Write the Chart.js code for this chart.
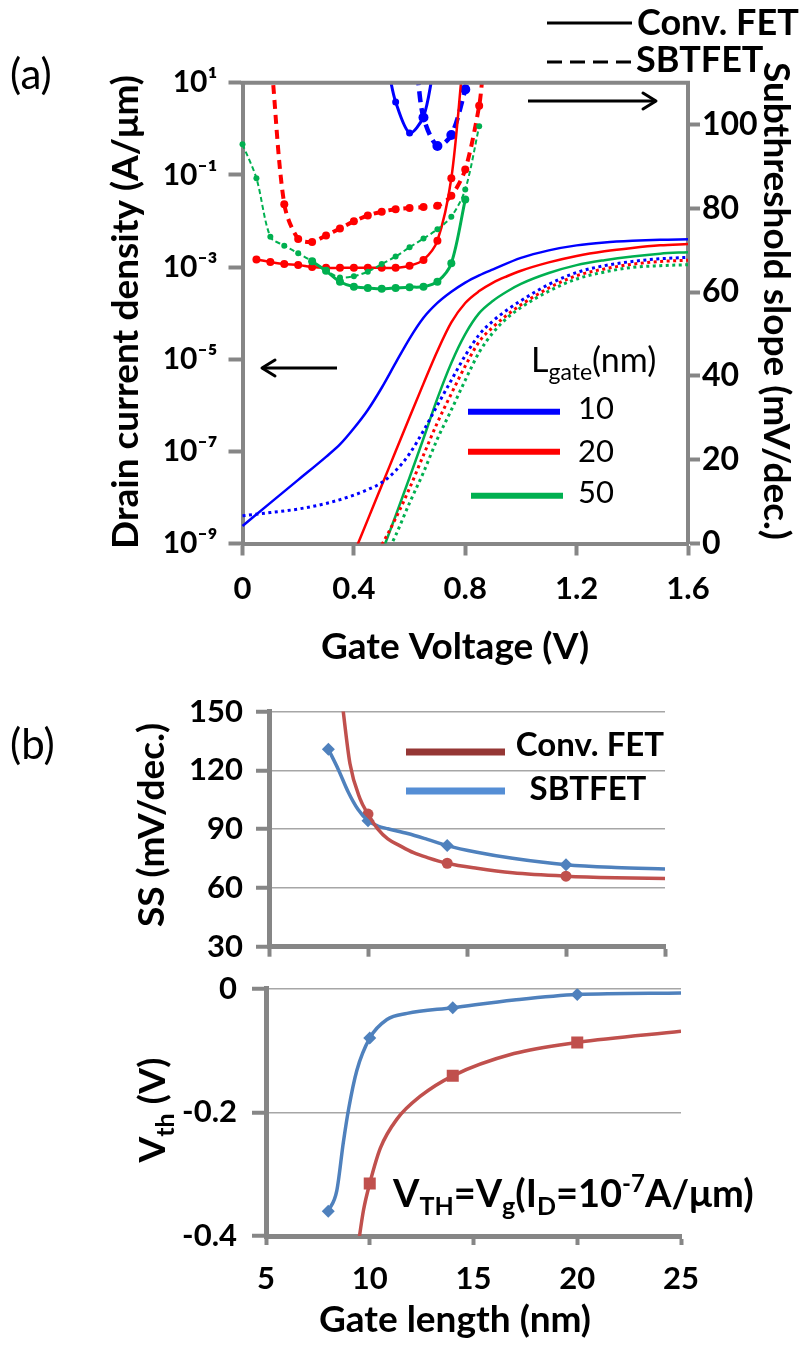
<!DOCTYPE html>
<html><head><meta charset="utf-8">
<script src="https://cdn.jsdelivr.net/npm/chart.js@4.4.1/dist/chart.umd.min.js"></script>
<style>
html,body{margin:0;padding:0;background:#fff;}
#wrap{position:relative;width:802px;height:1346px;overflow:hidden;background:#fff;}
canvas{position:absolute;left:0;}
</style></head><body>
<div id="wrap">
<canvas id="ca" width="802" height="680" style="top:0px;width:802px;height:680px"></canvas>
<canvas id="cb1" width="802" height="300" style="top:680px;width:802px;height:300px"></canvas>
<canvas id="cb2" width="802" height="391" style="top:955px;width:802px;height:391px"></canvas>
</div>
<script>
// ================= DATA =================
// ---- Panel (a) axes ----
const gateVTicks = [0, 0.4, 0.8, 1.2, 1.6];
const idTickValues = [1e-9, 1e-7, 1e-5, 1e-3, 1e-1, 1e1];
const idTickLabels = ['10⁻⁹', '10⁻⁷', '10⁻⁵', '10⁻³', '10⁻¹', '10¹'];
const ssTicksA = [0, 20, 40, 60, 80, 100];

// ---- Panel (a) drain current density (A/um) vs gate voltage ----
const idV_conv10 = [0,0.1,0.2,0.3,0.35,0.4,0.45,0.5,0.55,0.6,0.65,0.7,0.75,0.8,0.85,0.9,1.0,1.1,1.2,1.3,1.4,1.5,1.6];
const id_conv10 = [2.4e-9,7.6e-9,2.4e-8,7.6e-8,1.41e-7,3.16e-7,7.9e-7,2.4e-6,8.3e-6,2.8e-5,7.9e-5,1.66e-4,2.9e-4,4.6e-4,6.6e-4,8.9e-4,1.58e-3,2.3e-3,2.95e-3,3.4e-3,3.7e-3,3.9e-3,4.0e-3];
const idV_conv20 = [0.41,0.45,0.5,0.55,0.6,0.65,0.7,0.75,0.8,0.85,0.9,0.95,1.0,1.1,1.2,1.3,1.4,1.5,1.6];
const id_conv20 = [8.5e-10,3.3e-9,1.82e-8,1.0e-7,5.5e-7,2.95e-6,1.51e-5,6.3e-5,1.66e-4,3.0e-4,4.6e-4,6.3e-4,8.3e-4,1.26e-3,1.74e-3,2.2e-3,2.6e-3,2.95e-3,3.16e-3];
const idV_conv50 = [0.5,0.55,0.6,0.65,0.7,0.75,0.8,0.85,0.9,0.95,1.0,1.1,1.2,1.3,1.4,1.5,1.6];
const id_conv50 = [6.3e-10,4.0e-9,2.7e-8,1.9e-7,1.41e-6,8.3e-6,3.5e-5,1.0e-4,1.86e-4,2.95e-4,4.3e-4,7.4e-4,1.1e-3,1.41e-3,1.7e-3,1.95e-3,2.1e-3];
const idV_sb10 = [0,0.1,0.2,0.3,0.4,0.45,0.5,0.55,0.6,0.65,0.7,0.75,0.8,0.85,0.9,0.95,1.0,1.1,1.2,1.3,1.4,1.5,1.6];
const id_sb10 = [4.0e-9,4.7e-9,5.6e-9,7.4e-9,1.12e-8,1.48e-8,2.1e-8,3.8e-8,8.9e-8,2.8e-7,1.0e-6,3.5e-6,1.2e-5,3.4e-5,6.8e-5,1.17e-4,1.86e-4,4.2e-4,7.6e-4,1.07e-3,1.32e-3,1.51e-3,1.62e-3];
const idV_sb20 = [0.49,0.55,0.6,0.65,0.7,0.75,0.8,0.85,0.9,0.95,1.0,1.1,1.2,1.3,1.4,1.5,1.6];
const id_sb20 = [7.1e-10,3.5e-9,1.58e-8,8.3e-8,4.2e-7,1.78e-6,7.1e-6,2.4e-5,5.0e-5,9.1e-5,1.51e-4,3.5e-4,6.5e-4,9.1e-4,1.15e-3,1.32e-3,1.41e-3];
const idV_sb50 = [0.52,0.55,0.6,0.65,0.7,0.75,0.8,0.85,0.9,0.95,1.0,1.1,1.2,1.3,1.4,1.5,1.6];
const id_sb50 = [6.3e-10,1.5e-9,7.6e-9,3.5e-8,1.86e-7,7.9e-7,3.5e-6,1.41e-5,3.8e-5,7.8e-5,1.32e-4,3.0e-4,5.5e-4,7.8e-4,9.8e-4,1.07e-3,1.12e-3];

// ---- Panel (a) subthreshold slope (mV/dec.) vs gate voltage ----
const ssV_conv10 = [0.527,0.55,0.60,0.65,0.683];
const ss_conv10 = [112,105.4,98.0,101.9,112];
const ssV_sb10 = [0.628,0.65,0.70,0.75,0.80,0.81];
const ss_sb10 = [112,101.7,94.9,97.5,108.4,112];
const ssV_conv20 = [0.05,0.10,0.15,0.20,0.25,0.30,0.35,0.40,0.45,0.50,0.55,0.60,0.65,0.70,0.75,0.789];
const ss_conv20 = [67.8,67.2,66.7,66.5,66.0,65.8,65.8,65.8,65.8,65.8,65.8,66.3,67.7,72.3,87.2,113];
const ssV_sb20 = [0.106,0.15,0.20,0.25,0.30,0.35,0.40,0.45,0.50,0.55,0.60,0.65,0.70,0.75,0.80,0.85,0.864];
const ss_sb20 = [113,81.0,72.7,72.0,73.5,75.2,76.9,78.3,79.2,79.8,80.1,80.3,80.6,83.0,89.3,104.5,113];
const ssV_conv50 = [0.25,0.30,0.35,0.40,0.45,0.50,0.55,0.60,0.65,0.70,0.75,0.80];
const ss_conv50 = [67.4,65.1,62.5,61.3,61.0,60.8,61.0,61.2,61.3,62.5,66.9,82.1];
const ssV_sb50 = [0,0.05,0.10,0.15,0.20,0.25,0.30,0.35,0.40,0.45,0.50,0.55,0.60,0.65,0.70,0.75,0.80,0.85];
const ss_sb50 = [95.3,87.2,73.2,71.1,69.3,67.4,65.1,63.5,63.8,64.9,66.7,68.5,70.7,72.8,75.0,78.0,84.5,99.6];

// ---- Panel (b) ----
const lenTicks = [5, 10, 15, 20, 25];
const ssTicksB = [30, 60, 90, 120, 150];
const vthTicks = [-0.4, -0.2, 0];
// SS vs gate length: plotted points
const ssLen_conv = [10, 14, 20];
const ssB_conv = [97.7, 72.6, 66.0];
const ssLen_sb = [8, 10, 14, 20];
const ssB_sb = [130.8, 94.3, 81.6, 71.8];
// SS vs gate length: drawn smooth curves
const ssCurveLen_conv = [8.69,9.09,9.6,10,10.5,11,11.6,12.3,13,14,15.5,17.3,20,22.5,25];
const ssCurve_conv = [155,123.4,105.4,97.7,90,85,81.6,78,75.5,72.6,70,67.7,66,65.2,64.8];
const ssCurveLen_sb = [8,8.5,9,9.5,10,10.5,11,12,13,14,15.5,17.3,20,22.5,25];
const ssCurve_sb = [130.8,120.5,109,100,94.3,91.6,90.2,87.8,84.8,81.6,78.2,75.1,71.8,70.4,69.7];
// Vth vs gate length: plotted points
const vthLen_conv = [10, 14, 20];
const vth_conv = [-0.315, -0.141, -0.087];
const vthLen_sb = [8, 10, 14, 20];
const vth_sb = [-0.36, -0.08, -0.031, -0.0095];
// Vth vs gate length: drawn smooth curves
const vthCurveLen_conv = [9.42,9.7,10,10.51,11.31,12.44,14,16.95,20,25];
const vthCurve_conv = [-0.42,-0.358,-0.315,-0.258,-0.211,-0.174,-0.141,-0.105,-0.087,-0.069];
const vthCurveLen_sb = [8,8.41,8.73,8.98,9.38,10,10.83,11.8,14,16.95,20,25];
const vthCurve_sb = [-0.36,-0.327,-0.248,-0.195,-0.132,-0.08,-0.05,-0.04,-0.031,-0.0185,-0.0095,-0.007];

// ================= HELPERS =================
const FONT = "Lato, 'DejaVu Sans', sans-serif";
const AX = '#868686';
const BLUE = '#0000FF', RED = '#FF0000', GREEN = '#00B050';
const CONV = '#C0504D', SB = '#4F81BD';
const pts = (xs, ys) => xs.map((x, i) => ({x: x, y: ys[i]}));
const fixW = w => s => { s.width = w; };
const fixH = h => s => { s.height = h; };
const setTicks = vals => s => { s.ticks = vals.map(v => ({value: v})); };
const tickFont = (size, weight) => ({family: FONT, size: size, weight: weight || 'bold'});

function txt(ctx, s, x, y, o) {
  o = Object.assign({size: 37, weight: 'bold', align: 'center', base: 'middle', rot: 0}, o || {});
  ctx.save(); ctx.translate(x, y); if (o.rot) ctx.rotate(o.rot);
  ctx.font = o.weight + ' ' + o.size + 'px ' + FONT;
  ctx.fillStyle = '#000'; ctx.textAlign = o.align; ctx.textBaseline = o.base;
  ctx.fillText(s, 0, 0); ctx.restore();
}
function rich(ctx, parts, x, y, o) {
  o = Object.assign({align: 'left', rot: 0, weight: 'bold'}, o || {});
  ctx.save(); ctx.translate(x, y); if (o.rot) ctx.rotate(o.rot);
  ctx.fillStyle = '#000'; ctx.textBaseline = 'alphabetic'; ctx.textAlign = 'left';
  let w = 0;
  parts.forEach(p => { ctx.font = o.weight + ' ' + p[1] + 'px ' + FONT; w += ctx.measureText(p[0]).width; });
  let cx = o.align === 'center' ? -w / 2 : 0;
  parts.forEach(p => { ctx.font = o.weight + ' ' + p[1] + 'px ' + FONT; ctx.fillText(p[0], cx, p[2] || 0); cx += ctx.measureText(p[0]).width; });
  ctx.restore();
}
function seg(ctx, x1, y1, x2, y2, color, w, dash) {
  ctx.save(); ctx.strokeStyle = color; ctx.lineWidth = w; ctx.setLineDash(dash || []);
  ctx.beginPath(); ctx.moveTo(x1, y1); ctx.lineTo(x2, y2); ctx.stroke(); ctx.restore();
}
function arrow(ctx, x1, y, x2) {
  seg(ctx, x1, y, x2, y, '#000', 3);
  const d = x2 > x1 ? -1 : 1;
  ctx.save(); ctx.strokeStyle = '#000'; ctx.lineWidth = 3; ctx.lineCap = 'round'; ctx.lineJoin = 'round';
  ctx.beginPath(); ctx.moveTo(x2 + d * 13, y - 8); ctx.lineTo(x2, y); ctx.lineTo(x2 + d * 13, y + 8); ctx.stroke(); ctx.restore();
}
const overlay = (id, offY, fn) => ({id: id, afterDraw(chart) { const c = chart.ctx; c.save(); c.translate(0, -offY); fn(c, chart); c.restore(); }});

const baseOpts = {responsive: false, animation: false, devicePixelRatio: 1, events: [],
  plugins: {legend: {display: false}, tooltip: {enabled: false}}};

// ================= PANEL (a) =================
function ssSet(xs, ys, color, w, dash, r) {
  return {data: pts(xs, ys), yAxisID: 'y1', borderColor: color, backgroundColor: color, borderWidth: w,
    borderDash: dash, pointRadius: c => (c.raw && c.raw.y > 110 ? 0 : r), pointBorderWidth: 0,
    pointBackgroundColor: color, tension: 0.3, fill: false, clip: {left: 8, top: 0, right: 0, bottom: 0}};
}
function idSet(xs, ys, color, dotted) {
  return {data: pts(xs, ys), yAxisID: 'y', borderColor: color, borderWidth: dotted ? 3 : 2.5,
    borderDash: dotted ? [3, 3.5] : [], pointRadius: 0, cubicInterpolationMode: 'monotone', fill: false,
    clip: {left: 4, top: 0, right: 0, bottom: 0}};
}

new Chart(document.getElementById('ca'), {
  type: 'line',
  data: {datasets: [
    idSet(idV_sb10, id_sb10, BLUE, true),
    idSet(idV_sb20, id_sb20, RED, true),
    idSet(idV_sb50, id_sb50, GREEN, true),
    idSet(idV_conv10, id_conv10, BLUE, false),
    idSet(idV_conv20, id_conv20, RED, false),
    idSet(idV_conv50, id_conv50, GREEN, false),
    ssSet(ssV_sb50, ss_sb50, GREEN, 2, [5, 3], 3),
    ssSet(ssV_conv50, ss_conv50, GREEN, 3, [], 4),
    ssSet(ssV_sb20, ss_sb20, RED, 4, [9, 6], 4),
    ssSet(ssV_conv20, ss_conv20, RED, 2.5, [], 4),
    ssSet(ssV_conv10, ss_conv10, BLUE, 3, [], 3.5),
    ssSet(ssV_sb10, ss_sb10, BLUE, 4.5, [11, 6], 5)
  ]},
  options: Object.assign({}, baseOpts, {
    layout: {padding: {top: 82.7, left: 0, right: 0, bottom: 0}},
    scales: {
      x: {type: 'linear', min: 0, max: 1.6, afterFit: fixH(136.5), afterBuildTicks: setTicks(gateVTicks),
        ticks: {callback: v => (v === 0 ? '0' : v.toFixed(1)), font: tickFont(31), color: '#000', padding: 15, maxRotation: 0, autoSkip: false},
        grid: {drawOnChartArea: false, drawTicks: true, tickLength: 12, tickColor: AX, tickWidth: 4},
        border: {color: AX, width: 4}},
      y: {type: 'logarithmic', position: 'left', min: 1e-9, max: 10, afterFit: fixW(242.5), afterBuildTicks: setTicks(idTickValues),
        ticks: {callback: v => { const i = idTickValues.findIndex(t => Math.abs(Math.log10(t) - Math.log10(v)) < 1e-6); return i >= 0 ? idTickLabels[i] : ''; },
          font: tickFont(30), color: '#000', padding: 11, autoSkip: false},
        grid: {drawOnChartArea: false, drawTicks: true, tickLength: 14, tickColor: AX, tickWidth: 4},
        border: {color: AX, width: 4}},
      y1: {type: 'linear', position: 'right', min: 0, max: 110, afterFit: fixW(114), afterBuildTicks: setTicks(ssTicksA),
        ticks: {font: tickFont(32), color: '#000', padding: 2, autoSkip: false},
        grid: {drawOnChartArea: false, drawTicks: true, tickLength: 12, tickColor: AX, tickWidth: 4},
        border: {color: AX, width: 4}}
    }
  }),
  plugins: [overlay('annA', 0, (ctx, chart) => {
    const a = chart.chartArea;
    seg(ctx, a.left - 2, a.top, a.right + 2, a.top, AX, 4);
    txt(ctx, '(a)', 10, 75, {size: 42, weight: 'normal', align: 'left'});
    // line-style legend
    seg(ctx, 547, 23, 632, 23, '#000', 3);
    txt(ctx, 'Conv. FET', 637, 23, {size: 36, align: 'left'});
    seg(ctx, 547, 62, 632, 62, '#000', 3, [15, 8]);
    txt(ctx, 'SBTFET', 636, 60, {size: 36, align: 'left'});
    // axis titles
    txt(ctx, 'Drain current density (A/μm)', 126, 312, {size: 37, rot: -Math.PI / 2});
    txt(ctx, 'Subthreshold slope (mV/dec.)', 776, 301, {size: 37, rot: Math.PI / 2});
    txt(ctx, 'Gate Voltage (V)', 455, 647, {size: 37});
    // arrows
    arrow(ctx, 528, 101, 656);
    arrow(ctx, 337, 368, 262);
    // gate-length legend
    rich(ctx, [['L', 34], ['gate', 23, 8], ['(nm)', 34]], 531, 372, {weight: 'normal'});
    seg(ctx, 468, 411.7, 560, 411.7, BLUE, 6);
    seg(ctx, 468, 451.7, 560, 451.7, RED, 6);
    seg(ctx, 471, 495.7, 563, 495.7, GREEN, 6);
    txt(ctx, '10', 578, 419, {size: 31, weight: 'normal', align: 'left', base: 'alphabetic'});
    txt(ctx, '20', 578, 461.5, {size: 31, weight: 'normal', align: 'left', base: 'alphabetic'});
    txt(ctx, '50', 578, 503, {size: 31, weight: 'normal', align: 'left', base: 'alphabetic'});
  })]
});

// ================= PANEL (b) top: SS =================
function curve(xs, ys, color) {
  return {data: pts(xs, ys), borderColor: color, borderWidth: 3.5, pointRadius: 0,
    cubicInterpolationMode: 'monotone', fill: false, clip: 0};
}
function marks(xs, ys, color, style, r) {
  return {data: pts(xs, ys), showLine: false, pointStyle: style, pointRadius: r, pointBorderWidth: 0,
    pointBackgroundColor: color, backgroundColor: color, borderColor: color, clip: 0};
}
new Chart(document.getElementById('cb1'), {
  type: 'line',
  data: {datasets: [
    curve(ssCurveLen_conv, ssCurve_conv, CONV),
    curve(ssCurveLen_sb, ssCurve_sb, SB),
    marks(ssLen_conv, ssB_conv, CONV, 'circle', 5.5),
    marks(ssLen_sb, ssB_sb, SB, 'rectRot', 6.5)
  ]},
  options: Object.assign({}, baseOpts, {
    layout: {padding: {top: 22.7, left: 0, right: 137, bottom: 0}},
    scales: {
      x: {type: 'linear', min: 5, max: 25, afterFit: fixH(33.3), afterBuildTicks: setTicks(lenTicks),
        ticks: {display: false},
        grid: {drawOnChartArea: false, drawTicks: true, tickLength: 10, tickColor: AX, tickWidth: 4},
        border: {color: AX, width: 5}},
      y: {type: 'linear', min: 30, max: 150, afterFit: fixW(269), afterBuildTicks: setTicks(ssTicksB),
        ticks: {font: tickFont(31), color: '#000', padding: 13, autoSkip: false},
        grid: {color: '#A6A6A6', lineWidth: 1.5, drawTicks: true, tickLength: 13, tickColor: AX, tickWidth: 4},
        border: {color: AX, width: 5}}
    }
  }),
  plugins: [overlay('annB1', 680, (ctx) => {
    txt(ctx, '(b)', 10, 745, {size: 42, weight: 'normal', align: 'left'});
    txt(ctx, 'SS (mV/dec.)', 152, 825, {size: 37, rot: -Math.PI / 2});
    seg(ctx, 406, 752, 505, 752, '#953735', 7);
    seg(ctx, 406, 791, 505, 791, '#558ED5', 7);
    txt(ctx, 'Conv. FET', 590, 745, {size: 33});
    txt(ctx, 'SBTFET', 588, 789, {size: 33});
  })]
});

// ================= PANEL (b) bottom: Vth =================
new Chart(document.getElementById('cb2'), {
  type: 'line',
  data: {datasets: [
    curve(vthCurveLen_conv, vthCurve_conv, CONV),
    curve(vthCurveLen_sb, vthCurve_sb, SB),
    marks(vthLen_conv, vth_conv, CONV, 'rect', 8.5),
    marks(vthLen_sb, vth_sb, SB, 'rectRot', 6.5)
  ]},
  options: Object.assign({}, baseOpts, {
    layout: {padding: {top: 28.3, left: 0, right: 121, bottom: 0}},
    scales: {
      x: {type: 'linear', min: 5, max: 25, afterFit: fixH(110), afterBuildTicks: setTicks(lenTicks),
        ticks: {font: tickFont(31), color: '#000', padding: 15, maxRotation: 0, autoSkip: false},
        grid: {drawOnChartArea: false, drawTicks: true, tickLength: 9, tickColor: AX, tickWidth: 4},
        border: {color: AX, width: 5}},
      y: {type: 'linear', min: -0.4, max: 0, afterFit: fixW(266), afterBuildTicks: setTicks(vthTicks),
        ticks: {callback: v => (Math.abs(v) < 1e-9 ? '0' : v.toFixed(1)), font: tickFont(31), color: '#000', padding: 15, autoSkip: false},
        grid: {color: '#A6A6A6', lineWidth: 1.5, drawTicks: true, tickLength: 14, tickColor: AX, tickWidth: 4},
        border: {color: AX, width: 5}}
    }
  }),
  plugins: [overlay('annB2', 955, (ctx) => {
    rich(ctx, [['V', 37], ['th', 25, 9], [' (V)', 37]], 165, 1110, {align: 'center', rot: -Math.PI / 2});
    rich(ctx, [['V', 38], ['TH', 25, 8], ['=V', 38], ['g', 25, 8], ['(I', 38], ['D', 25, 8], ['=10', 38], ['-7', 24, -15], ['A/μm)', 38]], 393, 1207);
    txt(ctx, 'Gate length (nm)', 455, 1320, {size: 37});
  })]
});
</script>
</body></html>
